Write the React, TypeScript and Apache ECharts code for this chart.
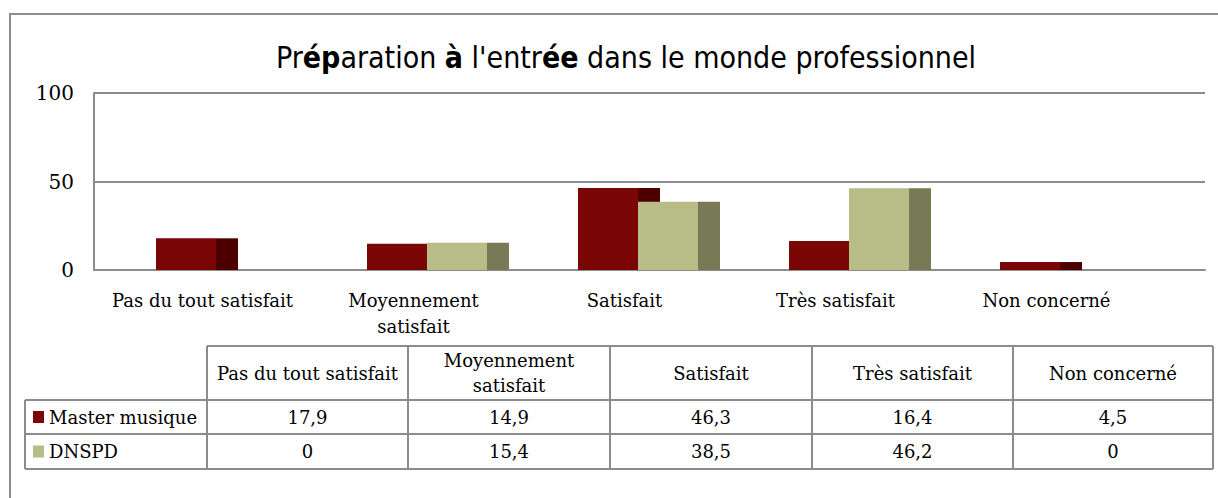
import React, { useEffect, useRef } from "react";
import * as echarts from "echarts";

const categories = [
  "Pas du tout satisfait",
  "Moyennement satisfait",
  "Satisfait",
  "Très satisfait",
  "Non concerné",
];
const seriesNames = ["Master musique", "DNSPD"];
const masterValues = [17.9, 14.9, 46.3, 16.4, 4.5];
const dnspdValues = [0, 15.4, 38.5, 46.2, 0];
const yTicks = [0, 50, 100];

const FRONT = ["#7B0606", "#B8BD88"];
const SIDE = ["#4E0000", "#777A55"];
const GRAY = "#8C8C8C";
const SERIF = "DejaVu Serif";
const NARROW = "DejaVu Sans Condensed";
const FS = 18;

const fmt = (v: number) => String(v).replace(".", ",");

let measureCtx: CanvasRenderingContext2D | null = null;
function wrap(text: string, maxW: number, size = FS, family = SERIF): string {
  if (!measureCtx) measureCtx = document.createElement("canvas").getContext("2d");
  if (!measureCtx) return text;
  measureCtx.font = `${size}px "${family}"`;
  const words = text.split(" ");
  const lines: string[] = [];
  let cur = "";
  for (const w of words) {
    const cand = cur ? cur + " " + w : w;
    if (cur && measureCtx.measureText(cand).width > maxW) {
      lines.push(cur);
      cur = w;
    } else cur = cand;
  }
  if (cur) lines.push(cur);
  return lines.join("\n");
}

function buildTable(): any[] {
  const els: any[] = [];
  const colX = [207, 408, 610, 812, 1013, 1213];
  const legendX = 25;
  const rowY = [346, 400, 434, 469];
  const line = (x1: number, y1: number, x2: number, y2: number) => ({
    type: "line",
    shape: { x1, y1, x2, y2 },
    style: { stroke: GRAY, lineWidth: 2 },
    silent: true,
  });
  els.push(line(colX[0], rowY[0], colX[5], rowY[0]));
  for (let r = 1; r < rowY.length; r++) els.push(line(legendX, rowY[r], colX[5], rowY[r]));
  els.push(line(legendX, rowY[1], legendX, rowY[3]));
  colX.forEach((x) => els.push(line(x, rowY[0], x, rowY[3])));
  const txt = (text: string, x: number, y: number, align = "center") => ({
    type: "text",
    silent: true,
    style: {
      text,
      x,
      y,
      align,
      verticalAlign: "middle",
      fill: "#000",
      fontSize: FS,
      fontFamily: SERIF,
      lineHeight: 25,
    },
  });
  categories.forEach((c, i) => {
    const cx = (colX[i] + colX[i + 1]) / 2;
    els.push(txt(wrap(c, 192), cx, (rowY[0] + rowY[1]) / 2));
  });
  const rows = [masterValues, dnspdValues];
  rows.forEach((vals, r) => {
    const cy = (rowY[r + 1] + rowY[r + 2]) / 2;
    els.push({
      type: "rect",
      silent: true,
      shape: { x: 33, y: cy - 6, width: 11, height: 12 },
      style: { fill: FRONT[r] },
    });
    els.push(txt(seriesNames[r], 49, cy, "left"));
    vals.forEach((v, i) => {
      const cx = (colX[i] + colX[i + 1]) / 2;
      els.push(txt(fmt(v), cx, cy));
    });
  });
  return els;
}

function makeSeries(idx: number, values: number[]) {
  return {
    type: "custom",
    name: seriesNames[idx],
    xAxisIndex: 1,
    yAxisIndex: 1,
    z: 3 + idx,
    data: values.map((v, i) => [i, v]),
    encode: { x: 0, y: 1 },
    renderItem: (params: any, api: any) => {
      const base = api.coord([api.value(0), 0]);
      const top = api.coord([api.value(0), api.value(1)]);
      const band = api.size([1, 0])[0];
      const frontW = band * (60 / 211);
      const sideW = band * (22 / 211);
      const x0 = base[0] - band * (46.5 / 211) + idx * frontW;
      const h = base[1] - top[1];
      return {
        type: "group",
        children: [
          {
            type: "rect",
            shape: { x: x0 + frontW, y: top[1], width: sideW, height: h },
            style: { fill: SIDE[idx] },
          },
          {
            type: "rect",
            shape: { x: x0, y: top[1], width: frontW, height: h },
            style: { fill: FRONT[idx] },
          },
        ],
      };
    },
  };
}

export default function App() {
  const ref = useRef<HTMLDivElement>(null);
  useEffect(() => {
    if (!ref.current) return;
    const chart = echarts.init(ref.current, undefined, { renderer: "svg" });
    const yMin = yTicks[0];
    const yMax = yTicks[yTicks.length - 1];
    const yInt = yTicks[1] - yTicks[0];
    chart.setOption({
      animation: false,
      backgroundColor: "#fff",
      title: {
        text: "{n|Pr}{b|ép}{n|aration }{b|à}{n| l'entr}{b|ée}{n| dans le monde professionnel}",
        left: 621,
        top: 37,
        textAlign: "center",
        textStyle: {
          rich: {
            n: { fontSize: 30, fontFamily: NARROW, color: "#000", fontWeight: "normal" },
            b: { fontSize: 30, fontFamily: NARROW, color: "#000", fontWeight: "bold" },
          },
        },
      },
      grid: [
        { left: 94, right: 13, top: 93, bottom: 228, containLabel: false },
        { left: 97, width: 1055, top: 93, bottom: 228, containLabel: false },
      ],
      xAxis: [
        {
          type: "category",
          gridIndex: 0,
          data: categories,
          axisLine: { show: true, lineStyle: { color: GRAY, width: 2 } },
          axisTick: { show: false },
          axisLabel: { show: false },
        },
        {
          type: "category",
          gridIndex: 1,
          data: categories,
          axisLine: { show: false },
          axisTick: { show: false },
          axisLabel: {
            show: true,
            fontSize: FS,
            fontFamily: SERIF,
            color: "#000",
            margin: 17,
            lineHeight: 26,
            interval: 0,
            formatter: (v: string) => wrap(v, 192),
          },
        },
      ],
      yAxis: [
        {
          type: "value",
          gridIndex: 0,
          min: yMin,
          max: yMax,
          interval: yInt,
          axisLine: { show: true, lineStyle: { color: GRAY, width: 2 } },
          axisTick: { show: false },
          splitLine: { show: true, lineStyle: { color: GRAY, width: 2 } },
          axisLabel: {
            fontSize: 20,
            fontFamily: SERIF,
            color: "#000",
            margin: 20,
          },
        },
        {
          type: "value",
          gridIndex: 1,
          min: yMin,
          max: yMax,
          interval: yInt,
          show: false,
        },
      ],
      series: [makeSeries(0, masterValues), makeSeries(1, dnspdValues)],
      graphic: [
        {
          type: "rect",
          silent: true,
          shape: { x: 10, y: 14, width: 1230, height: 510 },
          style: { fill: "none", stroke: GRAY, lineWidth: 2 },
        },
        ...buildTable(),
      ],
    });
    return () => chart.dispose();
  }, []);
  return (
    <div
      ref={ref}
      style={{ position: "absolute", left: 0, top: 0, width: 1218, height: 498 }}
    />
  );
}
